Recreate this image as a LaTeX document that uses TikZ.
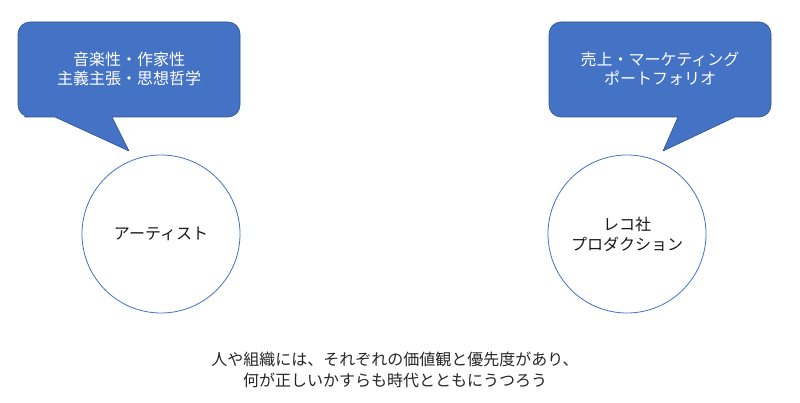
\documentclass[tikz,border=0pt]{standalone}
\usepackage{fontspec}
\setmainfont{Noto Sans CJK JP}
\usetikzlibrary{positioning}
\definecolor{officeblue}{HTML}{4472C4}
\definecolor{officeedge}{HTML}{2F528F}

\begin{document}
\begin{tikzpicture}[
        x=1pt, y=-1pt,
        bubble/.style={fill=officeblue, draw=officeedge, line width=0.6pt, line join=round},
        note/.style={text=white, align=center, font=\fontsize{16}{19.5}\selectfont},
        person/.style={circle, draw=officeblue, line width=0.8pt, fill=white, minimum size=158pt, inner sep=0pt, align=center, font=\fontsize{16}{20}\selectfont, text=black!90},
    ]
    \useasboundingbox (0,0) rectangle (800,403);

    % Draw the speech bubbles (left edge / tail base / tail tip)
    \foreach \name / \x / \a / \b / \tip in {artist/18/55/112/129, label/549/678/735/663}
        \path[bubble] ({(\b+\x+222)/2},117) [rounded corners=12pt] -- (\x+222,117) -- (\x+222,22) -- (\x,22) -- (\x,117)
            -- ({(\x+\a)/2},117) [sharp corners] -- (\a,117) -- (\tip,151) -- (\b,117) -- cycle;

    % Texts in the bubbles
    \node[note] (artist-note) at (129,69) {音楽性・作家性\\主義主張・思想哲学};
    \node[note] (label-note) at (660,69) {売上・マーケティング\\ポートフォリオ};

    % Draw the two parties
    \node[person] (artist) at (161,234) {アーティスト};
    \node[person] (label) at (627,234) {レコ社\\プロダクション};

    % Message at the bottom
    \node[align=center, font=\fontsize{16}{20.5}\selectfont, text=black!85] (message) at (395,370)
        {人や組織には、それぞれの価値観と優先度があり、\\何が正しいかすらも時代とともにうつろう};
\end{tikzpicture}
\end{document}
